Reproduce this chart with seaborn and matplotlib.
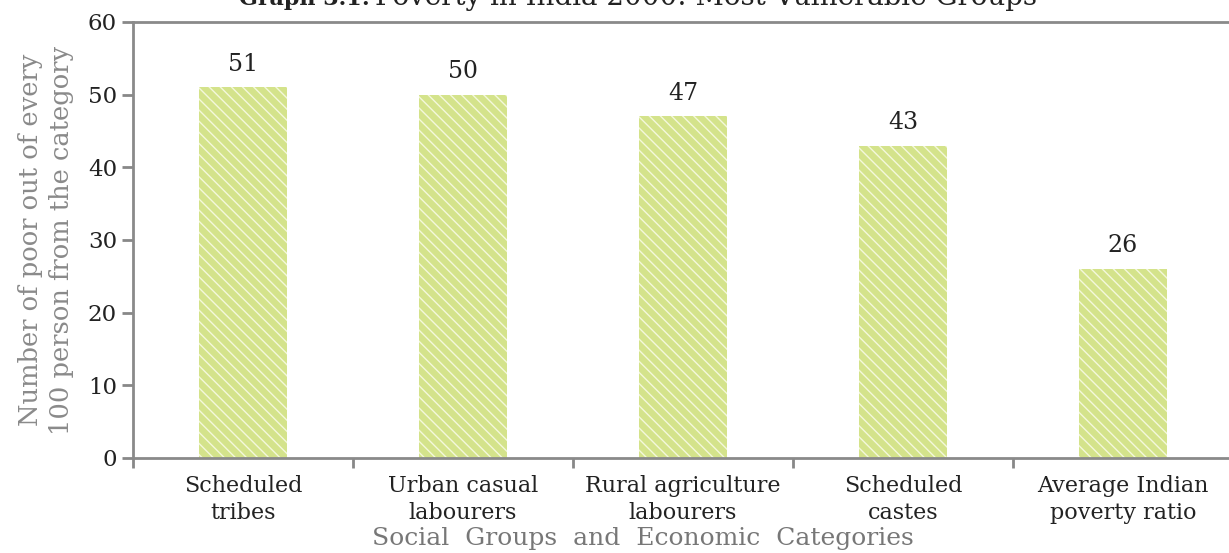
import matplotlib
matplotlib.use("Agg")
import matplotlib.pyplot as plt
import seaborn as sns
import pandas as pd

# Données
categories = ["Scheduled\ntribes", "Urban casual\nlabourers", "Rural agriculture\nlabourers",
              "Scheduled\ncastes", "Average Indian\npoverty ratio"]
valeurs = [51, 50, 47, 43, 26]
yticks = [0, 10, 20, 30, 40, 50, 60]

df = pd.DataFrame({"categorie": categories, "valeur": valeurs})

sns.set_theme(style="white")
plt.rcParams["font.family"] = ["DejaVu Serif"]
plt.rcParams["hatch.linewidth"] = 1.0

fig = plt.figure(figsize=(12.29, 5.53), dpi=100)
ax = fig.add_axes([133 / 1229, 95 / 553, 1100 / 1229, 436 / 553])

sns.barplot(data=df, x="categorie", y="valeur", color="#d4e38b", width=0.4,
            saturation=1, ax=ax)
for p in ax.patches:
    p.set_hatch("\\\\\\")
    p.set_edgecolor("#f4f8dc")
    p.set_linewidth(0)

# Étiquettes de valeur
for i, v in enumerate(valeurs):
    ax.text(i, v + 1.6, str(v), ha="center", va="bottom", fontsize=17, color="#222222")

ax.set_xlim(-0.5, len(categories) - 0.5)
ax.set_ylim(0, 60)
ax.set_yticks(yticks)
ax.set_xticks(range(len(categories)))
ax.set_xticks([i - 0.5 for i in range(len(categories) + 1)], minor=True)
ax.tick_params(axis="x", which="major", length=0, labelsize=16, pad=12, colors="#222222")
for lab in ax.get_xticklabels():
    lab.set_linespacing(1.3)
ax.tick_params(axis="x", which="minor", length=7, width=2, color="#888888", bottom=True)
ax.tick_params(axis="y", length=8, width=2, color="#888888", labelsize=16.5,
               labelcolor="#222222", left=True)

for s in ["left", "bottom", "top"]:
    ax.spines[s].set_color("#8a8a8a")
    ax.spines[s].set_linewidth(2)
ax.spines["right"].set_visible(False)

ax.set_ylabel("Number of poor out of every\n100 person from the category",
              fontsize=18.5, color="#8a8a8a", labelpad=10, linespacing=1.3)
ax.set_xlabel("Social  Groups  and  Economic  Categories", fontsize=18,
              color="#777777")
ax.xaxis.set_label_coords(0.4636, -0.158)

# Titre coupé en haut de l'image (comme sur la référence)
fig.text(370 / 1229, 1 - 5 / 553, "Graph 3.1:", ha="right", va="baseline",
         fontsize=16, fontweight="bold", color="#222222")
fig.text(375 / 1229, 1 - 5 / 553, "Poverty in India 2000: Most Vulnerable Groups",
         ha="left", va="baseline", fontsize=20, color="#222222")

fig.savefig("out.png", dpi=100)
